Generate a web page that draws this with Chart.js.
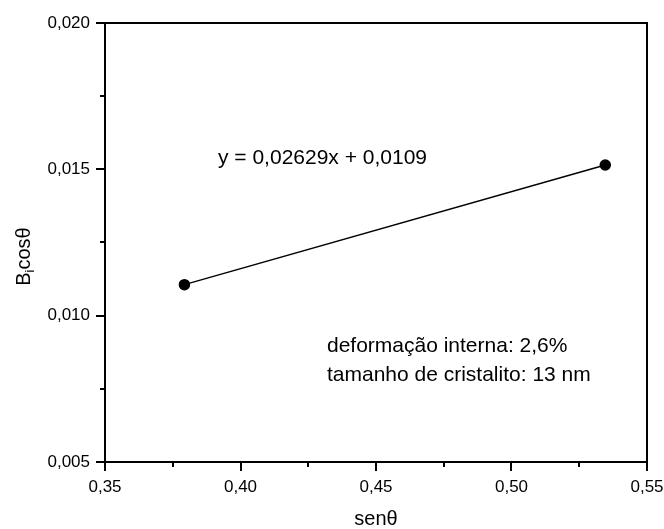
<!DOCTYPE html>
<html>
<head>
<meta charset="utf-8">
<script src="https://cdn.jsdelivr.net/npm/chart.js@4.4.1/dist/chart.umd.min.js"></script>
<style>
  html, body { margin: 0; padding: 0; background: #fff; }
  #wrap { width: 664px; height: 529px; }
</style>
</head>
<body>
<div id="wrap"><canvas id="grafico" width="664" height="529"></canvas></div>
<script>
// dados
const senTheta = [0.3793, 0.5346];
const bCosTheta = [0.01106, 0.01515];
const xTicks = [0.35, 0.40, 0.45, 0.50, 0.55];
const yTicks = [0.005, 0.010, 0.015, 0.020];
const equacao = 'y = 0,02629x + 0,0109';
const notas = ['deformação interna: 2,6%', 'tamanho de cristalito: 13 nm'];

const FONTE = '"Liberation Sans", Arial, sans-serif';
const virgula = (v, d) => v.toFixed(d).replace('.', ',');

// moldura, marcas dos eixos, títulos e textos
const extras = {
  id: 'extras',
  afterDraw(chart) {
    const ctx = chart.ctx;
    const a = chart.chartArea;
    const sx = chart.scales.x;
    const sy = chart.scales.y;
    ctx.save();
    ctx.strokeStyle = '#000';
    ctx.lineWidth = 2;
    ctx.strokeRect(a.left, a.top, a.right - a.left, a.bottom - a.top);

    // marcas principais e secundárias
    ctx.beginPath();
    xTicks.forEach((v, i) => {
      const px = Math.round(sx.getPixelForValue(v));
      ctx.moveTo(px, a.bottom); ctx.lineTo(px, a.bottom + 9);
      if (i < xTicks.length - 1) {
        const m = Math.round(sx.getPixelForValue((v + xTicks[i + 1]) / 2));
        ctx.moveTo(m, a.bottom); ctx.lineTo(m, a.bottom + 5);
      }
    });
    yTicks.forEach((v, i) => {
      const py = Math.round(sy.getPixelForValue(v));
      ctx.moveTo(a.left, py); ctx.lineTo(a.left - 9, py);
      if (i < yTicks.length - 1) {
        const m = Math.round(sy.getPixelForValue((v + yTicks[i + 1]) / 2));
        ctx.moveTo(a.left, m); ctx.lineTo(a.left - 5, m);
      }
    });
    ctx.stroke();

    ctx.fillStyle = '#000';
    // título do eixo x
    ctx.font = '20px ' + FONTE;
    ctx.textAlign = 'center';
    ctx.textBaseline = 'alphabetic';
    ctx.fillText('senθ', (a.left + a.right) / 2, 525);

    // título do eixo y: B com índice i
    ctx.save();
    ctx.translate(30, (a.top + a.bottom) / 2 + 14);
    ctx.rotate(-Math.PI / 2);
    ctx.textAlign = 'left';
    ctx.font = '20px ' + FONTE;
    const wB = ctx.measureText('B').width;
    ctx.font = '13px ' + FONTE;
    const wi = ctx.measureText('i').width;
    ctx.font = '20px ' + FONTE;
    const wc = ctx.measureText('cosθ').width;
    let x0 = -(wB + wi + wc) / 2;
    ctx.fillText('B', x0, 0);
    ctx.font = '13px ' + FONTE;
    ctx.fillText('i', x0 + wB, 4);
    ctx.font = '20px ' + FONTE;
    ctx.fillText('cosθ', x0 + wB + wi, 0);
    ctx.restore();

    // equação e notas
    ctx.textAlign = 'left';
    ctx.font = '21px ' + FONTE;
    ctx.fillText(equacao, sx.getPixelForValue(0.3917), sy.getPixelForValue(0.01519));
    ctx.fillText(notas[0], sx.getPixelForValue(0.4319), sy.getPixelForValue(0.00875));
    ctx.fillText(notas[1], sx.getPixelForValue(0.4319), sy.getPixelForValue(0.00776));
    ctx.restore();
  }
};

new Chart(document.getElementById('grafico'), {
  type: 'scatter',
  data: {
    datasets: [{
      data: senTheta.map((x, i) => ({ x: x, y: bCosTheta[i] })),
      showLine: true,
      borderColor: '#000',
      backgroundColor: '#000',
      borderWidth: 1.5,
      pointRadius: 5,
      pointHoverRadius: 5
    }]
  },
  options: {
    responsive: false,
    animation: false,
    layout: { padding: { top: 23, right: 17, left: 0, bottom: 0 } },
    plugins: { legend: { display: false }, tooltip: { enabled: false } },
    scales: {
      x: {
        type: 'linear',
        min: 0.35, max: 0.55,
        grid: { display: false, drawTicks: false },
        border: { display: false },
        ticks: {
          stepSize: 0.05,
          padding: 15,
          color: '#000',
          font: { family: FONTE, size: 17 },
          maxRotation: 0,
          callback: v => virgula(v, 2)
        },
        afterFit: s => { s.height = 67; s.paddingLeft = 0; s.paddingRight = 0; }
      },
      y: {
        type: 'linear',
        min: 0.005, max: 0.020,
        grid: { display: false, drawTicks: false },
        border: { display: false },
        ticks: {
          stepSize: 0.005,
          padding: 15,
          color: '#000',
          font: { family: FONTE, size: 17 },
          callback: v => virgula(v, 3)
        },
        afterFit: s => { s.width = 105; s.paddingTop = 0; s.paddingBottom = 0; }
      }
    }
  },
  plugins: [extras]
});
</script>
</body>
</html>
